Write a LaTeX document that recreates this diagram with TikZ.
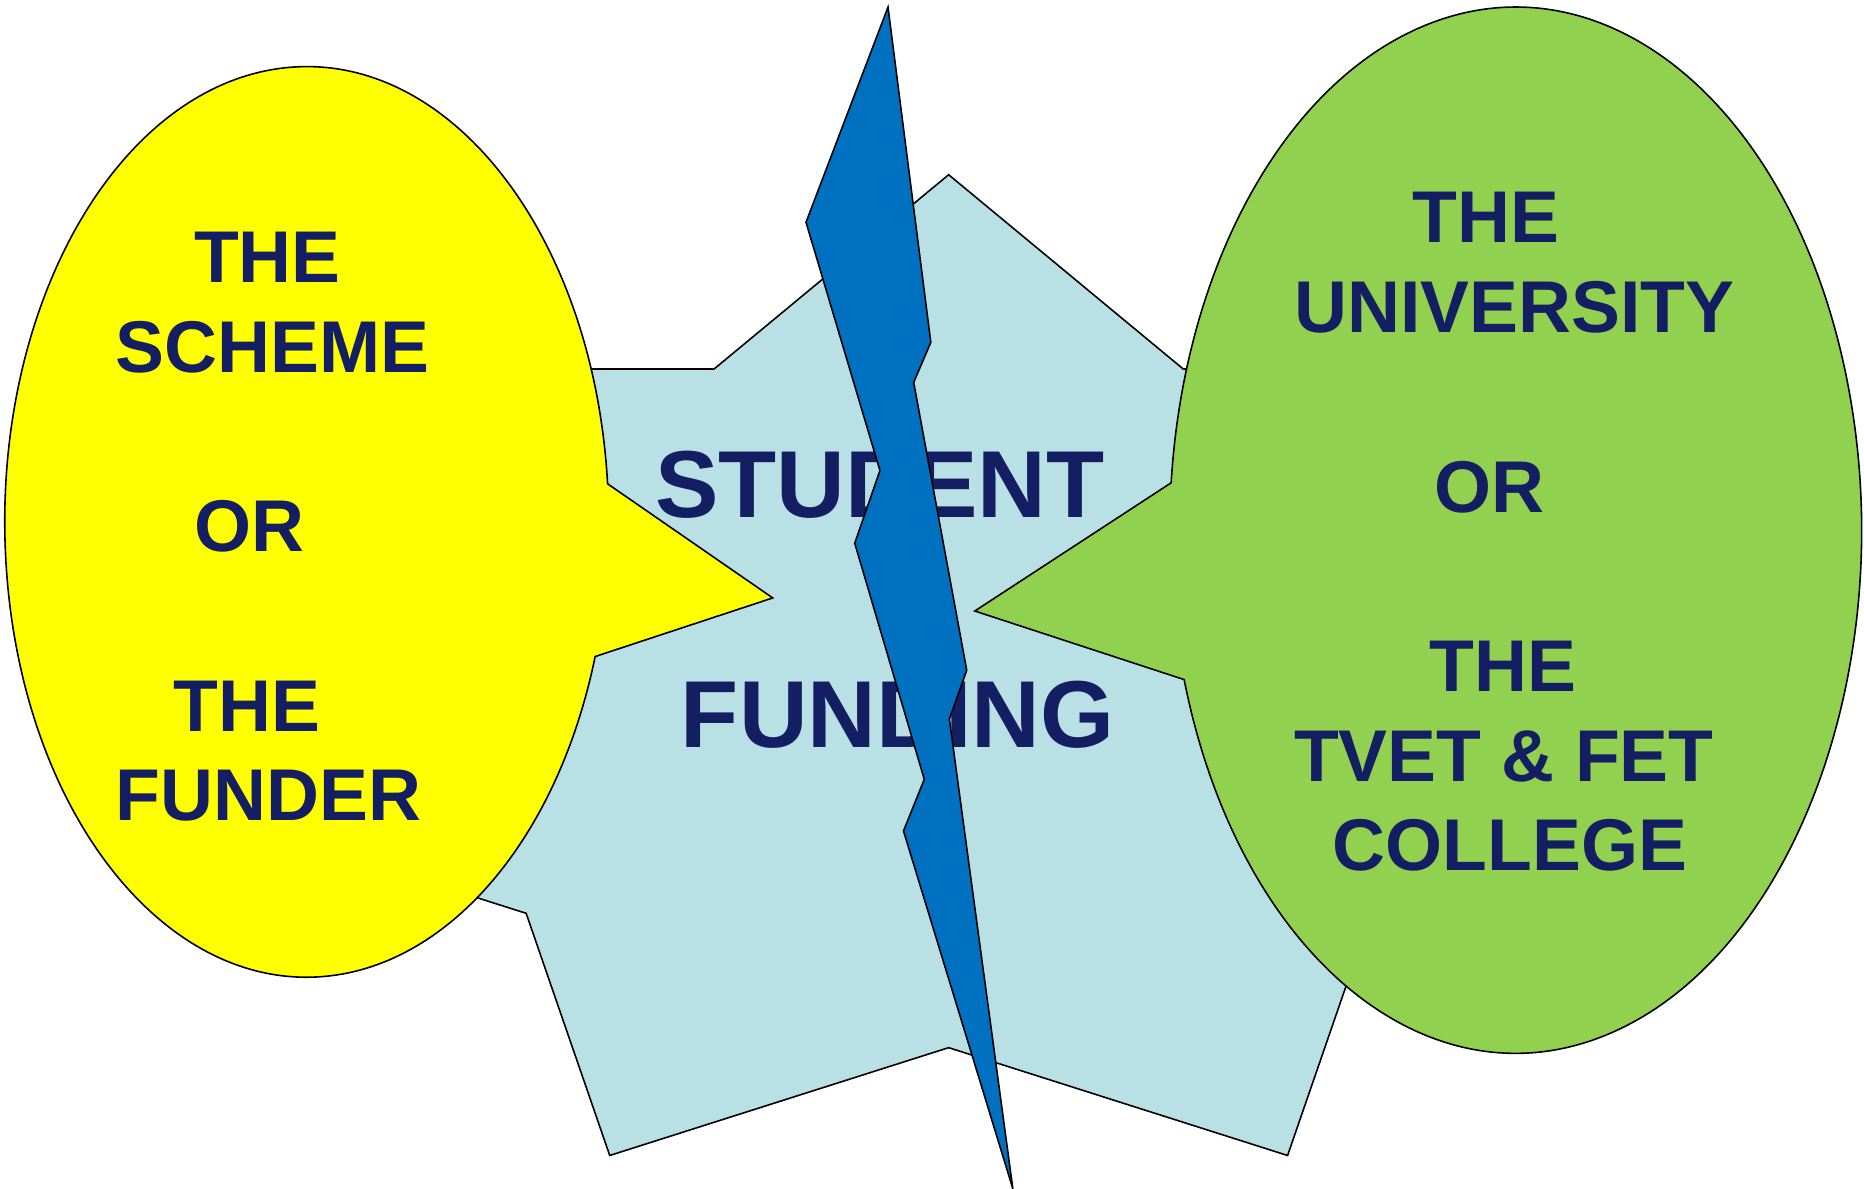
\documentclass[tikz,border=0pt]{standalone}
\usepackage{fontspec}
\setmainfont{Liberation Sans}
\usepackage{xcolor}
\usetikzlibrary{positioning}

\definecolor{starblue}{RGB}{185,224,228}
\definecolor{funderyellow}{RGB}{255,255,0}
\definecolor{collegegreen}{RGB}{146,208,80}
\definecolor{boltblue}{RGB}{0,112,192}
\definecolor{navytext}{RGB}{20,31,99}

\begin{document}
\begin{tikzpicture}[x=0.6pt,y=0.6pt,
  outline/.style={draw=black,line width=0.8pt,line join=miter},
  lbl/.style={anchor=base,inner sep=0pt,text=navytext,font=\fontsize{37}{44}\selectfont\bfseries},
  biglbl/.style={anchor=base,inner sep=0pt,text=navytext,font=\fontsize{48}{58}\selectfont\bfseries}]
\useasboundingbox (0,0) rectangle (1568,1000);

%Shape: Star [id:star7]
\draw [outline,fill=starblue] (798,853) -- (995.3,689.6) -- (1311.6,689.6) -- (1241.2,485.8) -- (1438.5,322.4) -- (1153.4,231.7) -- (1083.1,28) -- (798,118.7) -- (512.9,28) -- (442.6,231.7) -- (157.5,322.4) -- (354.8,485.8) -- (284.4,689.6) -- (600.7,689.6) -- cycle ;

%Shape: Ellipse Callout [id:funder]
\draw [outline,fill=funderyellow] (511.1,593) arc [start angle=4.8, end angle=342.8, x radius=254, y radius=383] -- (650,497) -- cycle ;

%Shape: Ellipse Callout [id:college]
\draw [outline,fill=collegegreen] (996.1,428.3) arc [start angle=196.6, end angle=534.8, x radius=291, y radius=440] -- (820,486) -- cycle ;

% Text Node
\node [biglbl] (student) at (740,565) {STUDENT};
% Text Node
\node [biglbl] (funding) at (755,371) {FUNDING};

%Shape: Lightning Bolt [id:bolt]
\draw [outline,fill=boltblue] (747,994) -- (783,712) -- (768.6,678.3) -- (813.2,436.2) -- (798.6,395) -- (852,0) -- (760,301) -- (777.5,344.4) -- (719,543) -- (740.2,604.2) -- (678,813) -- cycle ;

% Text Node
\node [lbl] (the1) at (225,762) {THE};
% Text Node
\node [lbl] (scheme) at (229,687) {SCHEME};
% Text Node
\node [lbl] (or1) at (210,536) {OR};
% Text Node
\node [lbl] (the2) at (208,385) {THE};
% Text Node
\node [lbl] (funder) at (226,310) {FUNDER};

% Text Node
\node [lbl] (the3) at (1250,796) {THE};
% Text Node
\node [lbl] (university) at (1274,720) {UNIVERSITY};
% Text Node
\node [lbl] (or2) at (1253,569) {OR};
% Text Node
\node [lbl] (the4) at (1264,418) {THE};
% Text Node
\node [lbl] (tvet) at (1265,343) {TVET \& FET};
% Text Node
\node [lbl] (college) at (1270,268) {COLLEGE};

\end{tikzpicture}
\end{document}
